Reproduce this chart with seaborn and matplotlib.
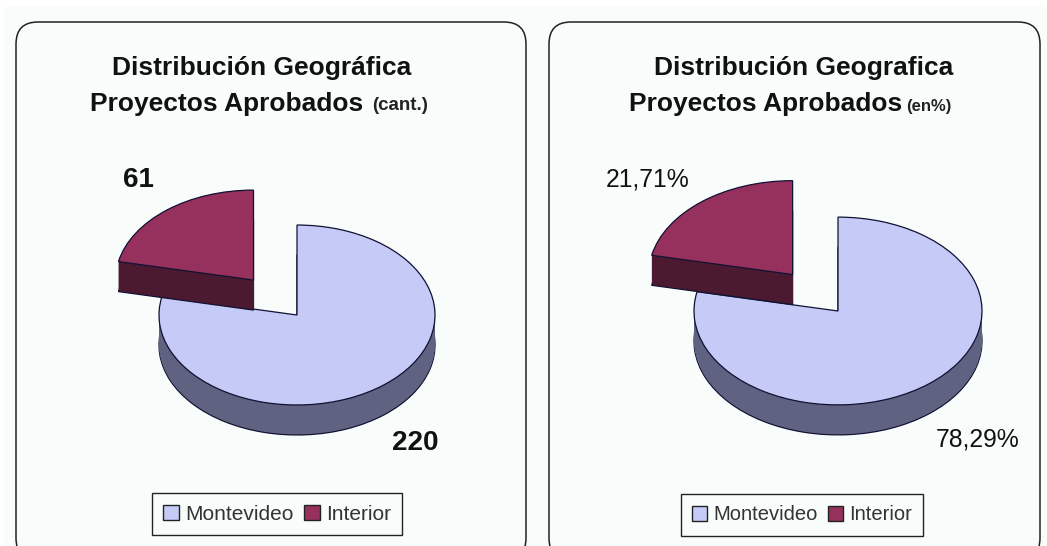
import matplotlib
matplotlib.use("Agg")
import matplotlib.pyplot as plt
import seaborn as sns
from matplotlib.patches import FancyBboxPatch, Rectangle

categories = ["Montevideo", "Interior"]
counts = [220, 61]
percents = [78.29, 21.71]
count_labels = ["220", "61"]
percent_labels = ["78,29%", "21,71%"]
title_top = ["Distribución Geográfica", "Distribución Geografica"]
title_main = "Proyectos Aprobados"
title_units = ["(cant.)", "(en%)"]

top_colors = ["#c5caf6", "#96305c"]
side_colors = ["#5f6280", "#4c1a30"]

sns.set_theme(style="white")
plt.rcParams["font.family"] = ["Liberation Sans", "DejaVu Sans"]

W, H = 1047, 546
K = 0.652
fig = plt.figure(figsize=(W / 100, H / 100), dpi=100, facecolor="white")

bg = fig.add_axes([0, 0, 1, 1])
bg.set_xlim(0, W)
bg.set_ylim(H, 0)
bg.axis("off")
bg.add_patch(Rectangle((4, 7), W - 4, H - 7, fc="#f8fcfa", ec="none"))
for x0, x1, bottom in [(16, 526, 560), (549, 1040, 560)]:
    r = 22
    bg.add_patch(FancyBboxPatch((x0 + r, 22 + r), x1 - x0 - 2 * r, bottom - 22 - 2 * r,
                                boxstyle=f"round,pad={r},rounding_size={r}",
                                fc="#f8fdfb", ec="#222222", lw=1.1, clip_on=True))

pie_ax = fig.add_axes([0, 0, 1, 1])
pie_ax.patch.set_alpha(0)


def draw_pie(values, cx, cy, radius, depth, explode):
    total = sum(values)
    start = 90 + 360 * values[1] / total
    center = (cx, (H - cy) / K)
    expl = [0, explode]
    for idx in range(len(values)):
        for d in range(depth, 0, -1):
            face = ["none", "none"]
            face[idx] = side_colors[idx]
            w, _ = pie_ax.pie(values, colors=face, radius=radius, startangle=start, explode=expl,
                              center=(center[0], center[1] - d / K),
                              wedgeprops=dict(linewidth=0.9 if d == depth else 0,
                                              edgecolor="#111133" if d == depth else "none"),
                              frame=True)
            for j, wd in enumerate(w):
                if j != idx:
                    wd.set_visible(False)
        face = ["none", "none"]
        face[idx] = top_colors[idx]
        w, _ = pie_ax.pie(values, colors=face, radius=radius, startangle=start, explode=expl,
                          center=center, wedgeprops=dict(linewidth=0.9, edgecolor="#111133"),
                          frame=True)
        for j, wd in enumerate(w):
            if j != idx:
                wd.set_visible(False)
    return w


draw_pie(counts, 297, 315, 138, 30, 69)
draw_pie(percents, 838, 311, 144, 30, 72)

pie_ax.set_aspect("auto")
pie_ax.set_xlim(0, W)
pie_ax.set_ylim(0, H / K)
pie_ax.axis("off")

# Titles
for i, cx in enumerate([262, 804]):
    bg.text(cx, 67.5, title_top[i], ha="center", va="center", fontsize=19, fontweight="bold", color="#111111")
offs = [(90, 372, 13.5), (629, 906, 12)]
for i, (x_main, x_unit, fs) in enumerate(offs):
    bg.text(x_main, 104, title_main, ha="left", va="center", fontsize=19, fontweight="bold", color="#111111")
    bg.text(x_unit, 106, title_units[i], ha="left", va="center", fontsize=fs, fontweight="bold", color="#222222")

# Data labels
bg.text(138, 180, count_labels[1], ha="center", va="center", fontsize=20, fontweight="bold", color="#111111")
bg.text(415, 443, count_labels[0], ha="center", va="center", fontsize=20, fontweight="bold", color="#111111")
bg.text(648, 179, percent_labels[1], ha="center", va="center", fontsize=17.8, color="#111111")
bg.text(978, 439, percent_labels[0], ha="center", va="center", fontsize=17.8, color="#111111")

# Legends
handles = [Rectangle((0, 0), 1, 1, fc=top_colors[j], ec="#222222", lw=1) for j in range(2)]
for (lcx, lcy, fs) in [(277, 514, 15), (802, 515, 14.5)]:
    leg = fig.legend(handles, categories, loc="center", bbox_to_anchor=(lcx / W, 1 - lcy / H),
                     ncol=2, fontsize=fs, frameon=True, fancybox=False, edgecolor="#222222",
                     facecolor="#f8fdfb", framealpha=1, handlelength=0.75, handleheight=0.75,
                     handletextpad=0.3, columnspacing=0.5, borderpad=0.55, borderaxespad=0)
    leg.get_frame().set_linewidth(1.0)
    for t in leg.get_texts():
        t.set_color("#333333")

fig.savefig("out.png", dpi=100)
